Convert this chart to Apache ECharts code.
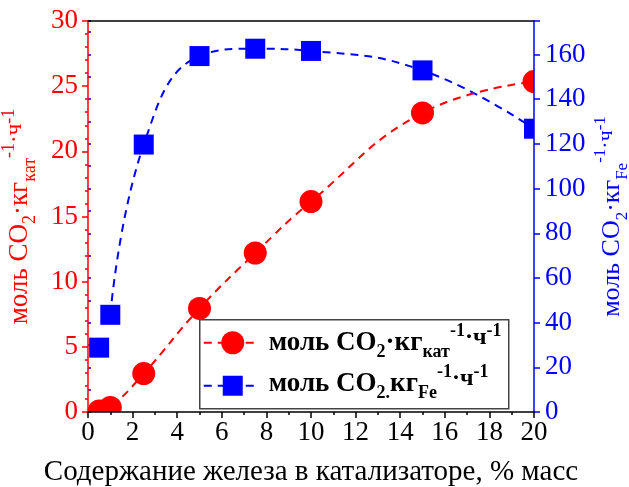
<!DOCTYPE html>
<html>
<head>
<meta charset="utf-8">
<script src="https://cdn.jsdelivr.net/npm/echarts@6/dist/echarts.min.js"></script>
<style>
html,body{margin:0;padding:0;background:#fff;overflow:hidden;}
#c{width:629px;height:487px;}
</style>
</head>
<body>
<div id="c"></div>
<script>
// ---- data ----
const feContent = [0.5, 1, 2.5, 5, 7.5, 10, 15, 20];
const rateCat = [0.08, 0.35, 2.95, 7.95, 12.2, 16.15, 22.95, 25.35];
const rateFe = [28.8, 43.5, 119.7, 159.3, 162.6, 161.6, 152.9, 126.8];
const xTicks = [0, 2, 4, 6, 8, 10, 12, 14, 16, 18, 20];
const leftTicks = [0, 5, 10, 15, 20, 25, 30];
const rightTicks = [0, 20, 40, 60, 80, 100, 120, 140, 160];
const rightMax = 175;

const FONT = '"Liberation Serif", "Times New Roman", serif';
const RED = '#ff0000';
const BLUE = '#0000ff';

const catPts = feContent.map((x, i) => [x, rateCat[i]]);
const fePts = feContent.map((x, i) => [x, rateFe[i]]);
const feLinePts = fePts.slice(1);

const chart = echarts.init(document.getElementById('c'), null, {renderer: 'canvas'});

function supStyles(color, base, sub, sup, mid, lh) {
  return {
    m: {fontFamily: FONT, fontSize: base, color: color, lineHeight: lh, verticalAlign: 'middle'},
    sub: {fontFamily: FONT, fontSize: sub, color: color, lineHeight: sub, verticalAlign: 'bottom', padding: [0, 0, 1, 0]},
    sup: {fontFamily: FONT, fontSize: sup, color: color, lineHeight: sup, verticalAlign: 'top', padding: [0, 0, 0, 0]},
    supm: {fontFamily: FONT, fontSize: mid, color: color, lineHeight: mid, verticalAlign: 'top', padding: [3, 0, 0, 0]}
  };
}

function markerSeries(name, pts, yIdx, kind, color, size) {
  return {
    name: name,
    type: 'custom',
    yAxisIndex: yIdx,
    clip: true,
    z: 5,
    data: pts,
    encode: {x: 0, y: 1},
    renderItem: function (params, api) {
      const p = api.coord([api.value(0), api.value(1)]);
      if (kind === 'circle') {
        return {type: 'circle', shape: {cx: p[0], cy: p[1], r: size / 2}, style: {fill: color}};
      }
      return {type: 'rect', shape: {x: p[0] - size / 2, y: p[1] - size / 2, width: size, height: size}, style: {fill: color}};
    }
  };
}

const legendRich = {
  m: {fontFamily: FONT, fontWeight: 'bold', fontSize: 27, fill: '#000', lineHeight: 40, verticalAlign: 'middle'},
  sub: {fontFamily: FONT, fontWeight: 'bold', fontSize: 18, fill: '#000', lineHeight: 18, verticalAlign: 'bottom', padding: [0, 0, 1, 0]},
  sup: {fontFamily: FONT, fontWeight: 'bold', fontSize: 18, fill: '#000', lineHeight: 18, verticalAlign: 'top'},
  supm: {fontFamily: FONT, fontWeight: 'bold', fontSize: 24, fill: '#000', lineHeight: 24, verticalAlign: 'top', padding: [3, 0, 0, 0]}
};

const option = {
  backgroundColor: '#fff',
  animation: false,
  grid: {left: 88, right: 95, top: 21, bottom: 75, containLabel: false, outerBoundsMode: 'none'},
  xAxis: [{
    type: 'value', min: 0, max: 20, interval: 2,
    name: 'Содержание железа в катализаторе, % масс',
    nameLocation: 'middle', nameGap: 46,
    nameTextStyle: {fontFamily: FONT, fontSize: 29, color: '#000'},
    axisLine: {show: true, onZero: false, lineStyle: {color: '#000', width: 1.5}},
    axisTick: {show: true, inside: false, length: 6, lineStyle: {color: '#000', width: 1.5}},
    minorTick: {show: true, splitNumber: 2, length: 3, lineStyle: {color: '#000', width: 1.5}},
    axisLabel: {fontFamily: FONT, fontSize: 27, color: '#000', margin: 7},
    splitLine: {show: false}, minorSplitLine: {show: false},
    z: 10
  }, {
    type: 'value', position: 'top', min: 0, max: 20,
    axisLine: {show: true, onZero: false, lineStyle: {color: '#000', width: 1.5}},
    axisTick: {show: false}, axisLabel: {show: false}, splitLine: {show: false},
    z: 10
  }],
  yAxis: [{
    type: 'value', position: 'left', min: 0, max: 30, interval: 5,
    name: '{m|моль CO}{sub|2}{m|·кг}{sub|кат}{sup|-1}{supm|·ч}{sup|-1}',
    nameLocation: 'middle', nameGap: 44, nameRotate: 90,
    nameTextStyle: {rich: supStyles(RED, 27, 18, 18, 23, 40)},
    axisLine: {show: true, onZero: false, lineStyle: {color: RED, width: 1.5}},
    axisTick: {show: true, inside: false, length: 6, lineStyle: {color: RED, width: 1.5}},
    minorTick: {show: true, splitNumber: 5, length: 3, lineStyle: {color: RED, width: 1.5}},
    axisLabel: {fontFamily: FONT, fontSize: 27, color: RED, margin: 10},
    splitLine: {show: false}, minorSplitLine: {show: false},
    z: 10
  }, {
    type: 'value', position: 'right', min: 0, max: rightMax, interval: 20,
    name: '{m|моль CO}{sub|2}{m|·кг}{sub|Fe}{sup|-1}{supm|·ч}{sup|-1}',
    nameLocation: 'middle', nameGap: 58, nameRotate: 90, nameMoveOverlap: false,
    nameTextStyle: {rich: supStyles(BLUE, 26, 17, 17, 22, 40)},
    axisLine: {show: true, onZero: false, lineStyle: {color: BLUE, width: 1.5}},
    axisTick: {show: true, inside: false, length: 6, lineStyle: {color: BLUE, width: 1.5}},
    minorTick: {show: false},
    axisLabel: {fontFamily: FONT, fontSize: 27, color: BLUE, margin: 11,
      formatter: function (v) { return rightTicks.indexOf(v) >= 0 ? String(v) : ''; }},
    splitLine: {show: false},
    z: 10
  }, {
    type: 'value', position: 'right', min: 0, max: rightMax, interval: 10,
    axisLine: {show: false},
    axisTick: {show: true, inside: false, length: 3, lineStyle: {color: BLUE, width: 1.5}},
    axisLabel: {show: false},
    splitLine: {show: false},
    z: 9
  }],
  series: [{
    name: 'feLine', type: 'line', yAxisIndex: 1, data: feLinePts, smooth: 0.45,
    showSymbol: false, symbol: 'none', clip: true, z: 3,
    lineStyle: {color: BLUE, width: 2, type: [8, 6]}
  }, {
    name: 'catLine', type: 'line', yAxisIndex: 0, data: catPts, smooth: 0.45,
    showSymbol: false, symbol: 'none', clip: true, z: 3,
    lineStyle: {color: RED, width: 2, type: [8, 6]}
  },
  markerSeries('fe', fePts, 1, 'rect', BLUE, 20),
  markerSeries('cat', catPts, 0, 'circle', RED, 23)
  ],
  graphic: [{
    type: 'group', left: 199, top: 319, z: 20,
    children: [
      {type: 'rect', shape: {x: 0, y: 0, width: 309, height: 89}, style: {fill: '#fff', stroke: '#444', lineWidth: 1.5}},
      {type: 'line', shape: {x1: 4, y1: 23, x2: 56, y2: 23}, style: {stroke: RED, lineWidth: 2, lineDash: [8, 6]}},
      {type: 'circle', shape: {cx: 33, cy: 23, r: 11.5}, style: {fill: RED}},
      {type: 'line', shape: {x1: 4, y1: 66, x2: 56, y2: 66}, style: {stroke: BLUE, lineWidth: 2, lineDash: [8, 6]}},
      {type: 'rect', shape: {x: 23, y: 56, width: 20, height: 20}, style: {fill: BLUE}},
      {type: 'text', x: 69, y: 23, style: {
        text: '{m|моль CO}{sub|2}{m|·кг}{sub|кат}{sup|-1}{supm|·ч}{sup|-1}',
        verticalAlign: 'middle', rich: legendRich
      }},
      {type: 'text', x: 69, y: 64, style: {
        text: '{m|моль CO}{sub|2.}{m|кг}{sub|Fe}{sup|-1}{supm|·ч}{sup|-1}',
        verticalAlign: 'middle', rich: legendRich
      }}
    ]
  }]
};
chart.setOption(option);
</script>
</body>
</html>
